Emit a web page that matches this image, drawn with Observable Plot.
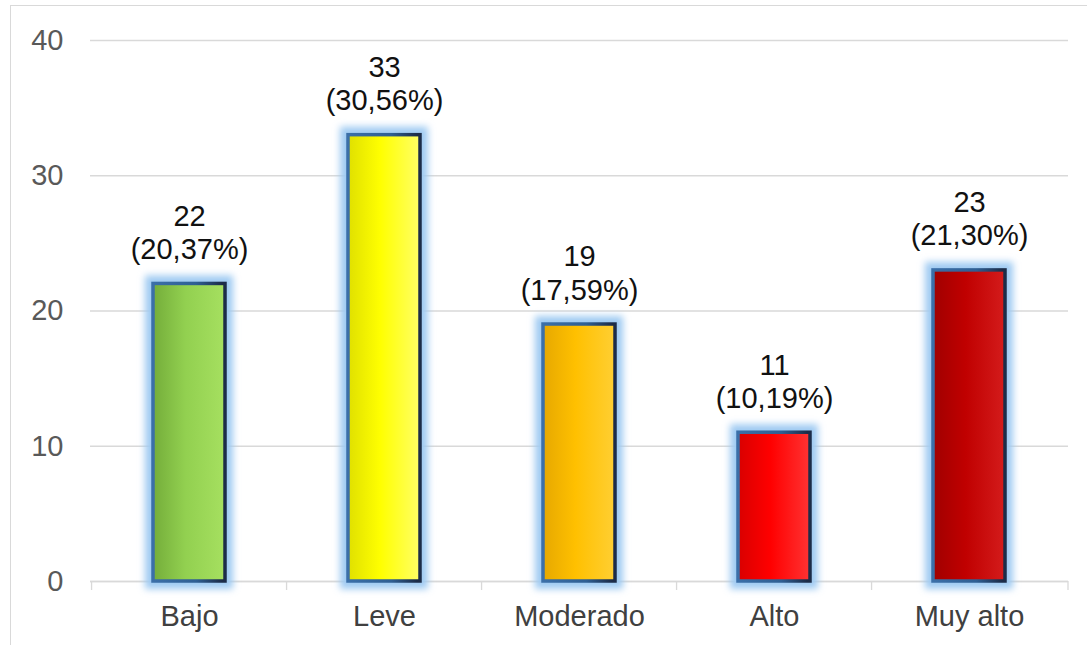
<!DOCTYPE html>
<html><head><meta charset="utf-8">
<script src="https://cdn.jsdelivr.net/npm/d3@7"></script>
<script src="https://cdn.jsdelivr.net/npm/@observablehq/plot@0.6"></script>
<style>
body{margin:0;background:#fff;}
#wrap{position:relative;width:1087px;height:645px;overflow:hidden;}
#frame{position:absolute;left:10px;top:5px;width:1100px;height:700px;border:1px solid #d9d9d9;box-sizing:border-box;}
#wrap svg{position:absolute;left:0;top:0;}
</style>
</head><body><div id="wrap"><div id="frame"></div></div>
<script>
const categories = ["Bajo","Leve","Moderado","Alto","Muy alto"];
const counts = [22,33,19,11,23];
const percents = [20.37,30.56,17.59,10.19,21.30];
const colors = ["#92D050","#FFFF00","#FFC000","#FF0000","#C00000"];
const darkColors = ["#74ad3a","#e0e000","#e6a800","#d90000","#a00000"];
const lightColors = ["#a6e060","#ffff66","#ffcf33","#ff3333","#d41c1c"];
const yTicks = [0,10,20,30,40];

const data = categories.map((c,i)=>({cat:c, n:counts[i], pct:percents[i], i}));

const chart = Plot.plot({
  width:1087, height:645,
  marginLeft:90, marginRight:19, marginTop:40, marginBottom:64,
  style:{fontFamily:"'Liberation Sans', Arial, sans-serif", fontSize:"29px", background:"transparent", overflow:"visible"},
  x:{domain:categories, paddingInner:0.63, paddingOuter:0.315, label:null},
  y:{domain:[0,40], label:null},
  color:{type:"identity"},
  marks:[
    Plot.gridY(yTicks,{stroke:"#d9d9d9", strokeOpacity:1, strokeWidth:1.3}),
    Plot.ruleY([0],{stroke:"#d9d9d9", strokeWidth:1.3}),
    Plot.axisY(yTicks,{tickSize:0, tickPadding:27, fill:"#595959", fontSize:29, label:null}),
    Plot.axisX({tickSize:0, tickPadding:24, fill:"#404040", fontSize:29, label:null}),
    Plot.barY(data,{x:"cat", y:"n", fill:"#9fcaf2", stroke:"#9fcaf2", strokeWidth:16}),
    Plot.barY(data,{x:"cat", y:"n", fill:d=>`url(#grad${d.i})`, stroke:"url(#edge)", strokeWidth:3.5}),
    Plot.text(data,{x:"cat", y:"n",
      text:d=>`${d.n}\n(${d.pct.toFixed(2).replace(".",",")}%)`,
      lineAnchor:"bottom", dy:-25, lineHeight:1.14, fontSize:29, fill:"#111"})
  ]
});

const svg = d3.select(chart);
const defs = svg.insert("defs",":first-child");
const f = defs.append("filter").attr("id","glow").attr("x","-50%").attr("y","-50%").attr("width","200%").attr("height","200%");
f.append("feGaussianBlur").attr("stdDeviation",3.5);
const e = defs.append("linearGradient").attr("id","edge").attr("x1","0").attr("x2","1").attr("y1","0").attr("y2","0");
e.append("stop").attr("offset","0").attr("stop-color","#3b6fa8");
e.append("stop").attr("offset","0.6").attr("stop-color","#2f5f93");
e.append("stop").attr("offset","0.96").attr("stop-color","#1c2c48");
e.append("stop").attr("offset","1").attr("stop-color","#1c2c48");
colors.forEach((c,i)=>{
  const g = defs.append("linearGradient").attr("id","grad"+i).attr("x1","0").attr("x2","1").attr("y1","0").attr("y2","0");
  g.append("stop").attr("offset","0").attr("stop-color",darkColors[i]);
  g.append("stop").attr("offset","0.45").attr("stop-color",c);
  g.append("stop").attr("offset","1").attr("stop-color",lightColors[i]);
});
const bars = chart.querySelectorAll('g[aria-label="bar"]');
if (bars[0]) bars[0].setAttribute("filter","url(#glow)");

// small tick marks at band boundaries on the baseline
const xs = chart.scale("x"), ys = chart.scale("y");
const y0 = ys.apply(0);
const bounds = categories.map(c => xs.apply(c) - xs.step*0.63/2);
bounds.push(xs.range[1]);
svg.append("g").selectAll("line").data(bounds).join("line")
  .attr("x1",d=>d).attr("x2",d=>d).attr("y1",y0).attr("y2",y0+9)
  .attr("stroke","#d9d9d9").attr("stroke-width",1.3);

document.getElementById("wrap").appendChild(chart);
</script>
</body></html>
